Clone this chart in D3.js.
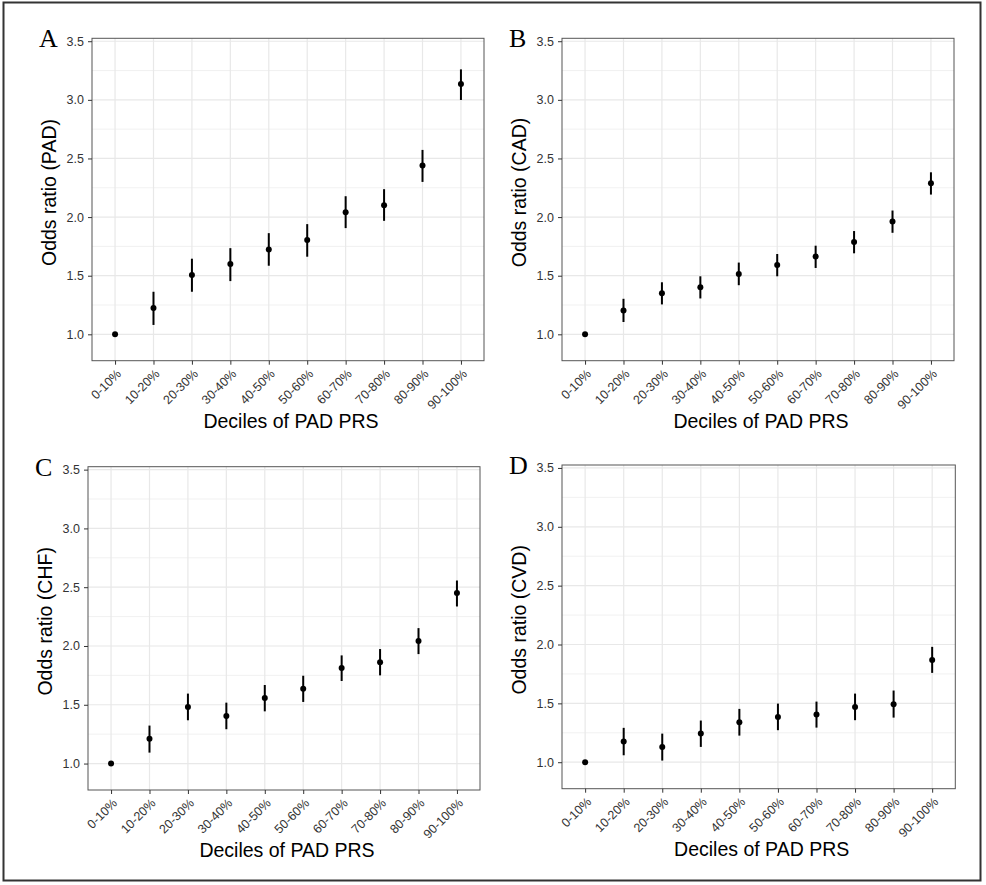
<!DOCTYPE html>
<html>
<head>
<meta charset="utf-8">
<script src="https://cdn.jsdelivr.net/npm/d3@7"></script>
<style>
  html, body { margin: 0; padding: 0; background: #fff; }
  svg { display: block; }
</style>
</head>
<body>
<div id="chart"></div>
<script>
// ---------- DATA ----------
const categories = ["0-10%","10-20%","20-30%","30-40%","40-50%","50-60%","60-70%","70-80%","80-90%","90-100%"];
const yTicks = [1.0, 1.5, 2.0, 2.5, 3.0, 3.5];
const yMinorTicks = [1.25, 1.75, 2.25, 2.75, 3.25];

const panelLetters = ["A", "B", "C", "D"];
const yTitles = ["Odds ratio (PAD)", "Odds ratio (CAD)", "Odds ratio (CHF)", "Odds ratio (CVD)"];
const xTitle = "Deciles of PAD PRS";

// Panel A (PAD)
const orPAD    = [1.00, 1.224, 1.505, 1.599, 1.724, 1.804, 2.042, 2.102, 2.440, 3.135];
const lowerPAD = [1.00, 1.080, 1.363, 1.454, 1.585, 1.662, 1.906, 1.968, 2.300, 2.999];
const upperPAD = [1.00, 1.363, 1.645, 1.735, 1.863, 1.940, 2.178, 2.238, 2.573, 3.260];
// Panel B (CAD)
const orCAD    = [1.00, 1.204, 1.351, 1.402, 1.515, 1.592, 1.663, 1.787, 1.963, 2.288];
const lowerCAD = [1.00, 1.105, 1.255, 1.306, 1.419, 1.495, 1.566, 1.691, 1.866, 2.192];
const upperCAD = [1.00, 1.303, 1.444, 1.495, 1.612, 1.685, 1.756, 1.881, 2.056, 2.382];
// Panel C (CHF)
const orCHF    = [1.00, 1.210, 1.481, 1.405, 1.558, 1.637, 1.813, 1.861, 2.042, 2.450];
const lowerCHF = [1.00, 1.093, 1.368, 1.292, 1.444, 1.524, 1.702, 1.750, 1.931, 2.336];
const upperCHF = [1.00, 1.323, 1.595, 1.518, 1.668, 1.747, 1.920, 1.974, 2.152, 2.557];
// Panel D (CVD)
const orCVD    = [1.00, 1.176, 1.130, 1.243, 1.340, 1.385, 1.405, 1.470, 1.493, 1.869];
const lowerCVD = [1.00, 1.059, 1.014, 1.130, 1.226, 1.272, 1.294, 1.357, 1.379, 1.759];
const upperCVD = [1.00, 1.292, 1.243, 1.354, 1.453, 1.498, 1.515, 1.583, 1.609, 1.980];

// ---------- LAYOUT ----------
const W = 986, H = 885;
const panels = [
  { letter: panelLetters[0], ytitle: yTitles[0], or: orPAD, lo: lowerPAD, hi: upperPAD, left: 92,  right: 484,   top: 38.3,  bottom: 360.7 },
  { letter: panelLetters[1], ytitle: yTitles[1], or: orCAD, lo: lowerCAD, hi: upperCAD, left: 562, right: 954,   top: 38.3,  bottom: 360.7 },
  { letter: panelLetters[2], ytitle: yTitles[2], or: orCHF, lo: lowerCHF, hi: upperCHF, left: 88,  right: 480,   top: 466.7, bottom: 790 },
  { letter: panelLetters[3], ytitle: yTitles[3], or: orCVD, lo: lowerCVD, hi: upperCVD, left: 562, right: 955.3, top: 465,   bottom: 788.7 }
];

const svg = d3.select("#chart").append("svg")
  .attr("width", W).attr("height", H)
  .style("font-family", "'Liberation Sans', Arial, Helvetica, sans-serif");

svg.append("rect").attr("x", 0).attr("y", 0).attr("width", W).attr("height", H).attr("fill", "#fff");
// outer frame
svg.append("rect")
  .attr("x", 3.5).attr("y", 2.5).attr("width", 977).attr("height", 878)
  .attr("fill", "none").attr("stroke", "#333").attr("stroke-width", 2);

panels.forEach(p => {
  const x = d3.scalePoint().domain(categories).range([p.left, p.right]).padding(0.6);
  const y = d3.scaleLinear().domain([0.775, 3.525]).range([p.bottom, p.top]);
  const g = svg.append("g");

  // grid minor
  g.selectAll(".ymin").data(yMinorTicks).join("line")
    .attr("x1", p.left).attr("x2", p.right)
    .attr("y1", d => y(d)).attr("y2", d => y(d))
    .attr("stroke", "#ebebeb").attr("stroke-width", 0.7);
  // grid major
  g.selectAll(".ymaj").data(yTicks).join("line")
    .attr("x1", p.left).attr("x2", p.right)
    .attr("y1", d => y(d)).attr("y2", d => y(d))
    .attr("stroke", "#e8e8e8").attr("stroke-width", 1.2);
  g.selectAll(".xmaj").data(categories).join("line")
    .attr("x1", d => x(d)).attr("x2", d => x(d))
    .attr("y1", p.top).attr("y2", p.bottom)
    .attr("stroke", "#e8e8e8").attr("stroke-width", 1.2);

  // error bars
  g.selectAll(".err").data(categories).join("line")
    .attr("x1", d => x(d)).attr("x2", d => x(d))
    .attr("y1", (d, i) => y(p.lo[i])).attr("y2", (d, i) => y(p.hi[i]))
    .attr("stroke", "#000").attr("stroke-width", 2);
  // points
  g.selectAll(".pt").data(categories).join("circle")
    .attr("cx", d => x(d)).attr("cy", (d, i) => y(p.or[i]))
    .attr("r", 3).attr("fill", "#000");

  // panel border
  g.append("rect")
    .attr("x", p.left).attr("y", p.top)
    .attr("width", p.right - p.left).attr("height", p.bottom - p.top)
    .attr("fill", "none").attr("stroke", "#555").attr("stroke-width", 1);

  // y axis
  const yAxis = d3.axisLeft(y).tickValues(yTicks).tickFormat(d3.format(".1f")).tickSize(4).tickPadding(4);
  const ya = g.append("g").attr("transform", `translate(${p.left},0)`).call(yAxis)
    .attr("font-size", 12.5).attr("font-family", null);
  ya.select(".domain").remove();
  ya.selectAll(".tick line").attr("stroke", "#333").attr("stroke-width", 1);
  ya.selectAll(".tick text").attr("fill", "#333").attr("font-size", 12.5);

  // x axis
  const xAxis = d3.axisBottom(x).tickSize(4).tickPadding(3);
  const xa = g.append("g").attr("transform", `translate(0,${p.bottom})`).call(xAxis)
    .attr("font-size", 12.5).attr("font-family", null);
  xa.select(".domain").remove();
  xa.selectAll(".tick line").attr("stroke", "#333").attr("stroke-width", 1);
  xa.selectAll(".tick text")
    .attr("fill", "#333").attr("font-size", 12.5)
    .attr("text-anchor", "end")
    .attr("x", 0).attr("y", 0)
    .attr("dy", "0.72em")
    .attr("transform", "translate(0,7.5) rotate(-45)");

  // axis titles
  g.append("text")
    .attr("transform", `translate(${p.left - 36},${(p.top + p.bottom) / 2 - 7}) rotate(-90)`)
    .attr("text-anchor", "middle")
    .attr("font-size", 19.5).attr("fill", "#000")
    .text(p.ytitle);
  g.append("text")
    .attr("x", (p.left + p.right) / 2 + 3).attr("y", p.bottom + 67)
    .attr("text-anchor", "middle")
    .attr("font-size", 19.5).attr("fill", "#000")
    .text(xTitle);

  // panel letter
  g.append("text")
    .attr("x", p.left - 53).attr("y", p.top + 9)
    .attr("font-family", "'Liberation Serif', 'Times New Roman', serif")
    .attr("font-size", 26).attr("fill", "#000")
    .text(p.letter);
});
</script>
</body>
</html>
